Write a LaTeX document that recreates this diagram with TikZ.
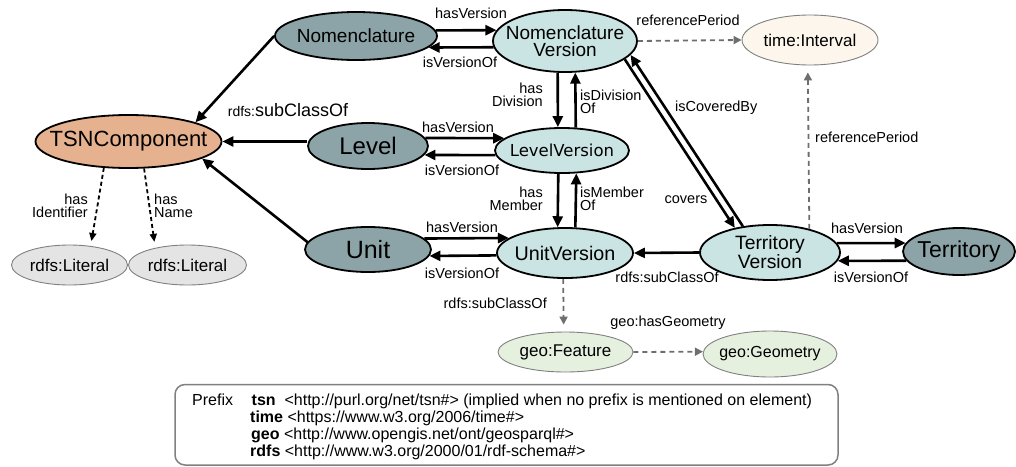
\documentclass[tikz,border=0pt]{standalone}
\usepackage{fontspec}
\setmainfont{Liberation Sans}
\newfontfamily\djv{DejaVu Sans}
\usetikzlibrary{arrows.meta,shapes.geometric}
\definecolor{tsnc}{HTML}{E6B18E}
\definecolor{dkc}{HTML}{8CA3A8}
\definecolor{ltc}{HTML}{CAE3E3}
\definecolor{litc}{HTML}{E4E4E4}
\definecolor{timc}{HTML}{FDF6EC}
\definecolor{geoc}{HTML}{E5F0DF}
\definecolor{grc}{HTML}{6E6E6E}
\definecolor{bdc}{HTML}{808080}
\begin{document}
\begin{tikzpicture}[x=1pt,y=-1pt,
  ell/.style 2 args={ellipse, minimum width=#1, minimum height=#2, inner sep=0pt},
  mainb/.style={draw=black, line width=1.8pt},
  dk/.style={mainb, fill=dkc},
  lt/.style={mainb, fill=ltc},
  ts/.style={mainb, fill=tsnc},
  soft/.style={draw=bdc, line width=0.9pt},
  txt/.style={inner sep=0pt, align=center},
  arr/.style={line width=2.6pt, -{Triangle[length=11pt,width=10pt]}},
  gdash/.style={color=grc, line width=1.8pt, dash pattern=on 5pt off 4pt, -{Triangle[length=8pt,width=8pt]}},
  kdash/.style={line width=1.8pt, dash pattern=on 4pt off 3pt, -{Triangle[length=8pt,width=7pt]}},
  lbl/.style={font=\fontsize{14.5}{13}\selectfont, inner sep=0pt, align=center},
  ptxt/.style={anchor=base west, inner sep=0pt, font=\fontsize{16}{17}\selectfont}
]
\useasboundingbox (0,0) rectangle (1016,466);

% ---- nodes
\node[ts, ell={186pt}{53pt}] (tsn) at (128.5,141.5) {};
\node[txt, font=\fontsize{22}{22}\selectfont] (tsnT) at (tsn) {TSNComponent};

\node[dk, ell={162pt}{48pt}] (nom) at (356,36) {};
\node[txt, font=\fontsize{19}{19}\selectfont] (nomT) at (nom) {Nomenclature};

\node[lt, ell={144pt}{62pt}] (nv) at (565,41) {};
\node[txt, font=\fontsize{19}{17.5}\selectfont] (nvT) at (nv) {Nomenclature\\Version};

\node[soft, fill=timc, ell={136pt}{50pt}] (ti) at (810,40) {};
\node[txt, font=\fontsize{17}{17}\selectfont] (tiT) at (ti) {time:Interval};

\node[dk, ell={120pt}{46pt}] (lev) at (368,146) {};
\node[txt, font=\fontsize{24}{24}\selectfont] (levT) at (lev) {Level};

\node[lt, ell={134pt}{45pt}] (lv) at (562,150.5) {};
\node[txt, font=\djv\fontsize{16.5}{16.5}\selectfont] (lvT) at (lv) {LevelVersion};

\node[dk, ell={126pt}{45pt}] (unit) at (368,249.5) {};
\node[txt, font=\fontsize{25}{25}\selectfont] (unitT) at (unit) {Unit};

\node[lt, ell={136pt}{50pt}] (uv) at (565,253) {};
\node[txt, font=\fontsize{19.7}{19.7}\selectfont] (uvT) at (uv) {UnitVersion};

\node[lt, ell={140pt}{55pt}] (tv) at (770,252.5) {};
\node[txt, font=\fontsize{19.3}{17}\selectfont] (tvT) at (tv) {Territory\\Version};

\node[dk, ell={112pt}{47pt}] (ter) at (959,251.5) {};
\node[txt, font=\fontsize{23}{23}\selectfont] (terT) at (ter) {Territory};

\node[soft, fill=litc, ell={116pt}{40pt}] (lit1) at (69.5,265) {};
\node[txt, font=\fontsize{17}{17}\selectfont] (lit1T) at (lit1) {rdfs:Literal};
\node[soft, fill=litc, ell={118pt}{40pt}] (lit2) at (187.5,265) {};
\node[txt, font=\fontsize{17}{17}\selectfont] (lit2T) at (lit2) {rdfs:Literal};

\node[soft, fill=geoc, ell={135pt}{40pt}] (gf) at (565.5,352) {};
\node[txt, font=\fontsize{17}{17}\selectfont] (gfT) at (gf) {geo:Feature};
\node[soft, fill=geoc, ell={134pt}{46pt}] (gg) at (770,354) {};
\node[txt, font=\fontsize{16}{16}\selectfont] (ggT) at (gg) {geo:Geometry};

% ---- edges
\draw[arr] (nom.west) -- (tsn.16);
\draw[arr] (lev.west |- tsn.east) -- (tsn.east);
\draw[arr] (unit.173) -- (tsn.-13);

\draw[arr] (nom.4) -- (nv.171);
\draw[arr] (nv.-175) -- (nom.-9);
\draw[arr] (lev.8) -- (lv.168);
\draw[arr] (lv.-176) -- (lev.-9);
\draw[arr] (unit.11) -- (uv.165);
\draw[arr] (uv.-178) -- (unit.-6);
\draw[arr] (tv.8) -- (ter.171);
\draw[arr] (ter.-170) -- (tv.-7);

\draw[arr] (nv.-103) -- (lv.100);
\draw[arr] (lv.59) -- (nv.-72);
\draw[arr] (lv.-99) -- (uv.106);
\draw[arr] (uv.68) -- (lv.-58);

\draw[arr] (tv.180) -- (uv.0);
\draw[arr] (nv.-17) -- (tv.145);
\draw[arr] (tv.136) -- (nv.-12);

\draw[gdash] (nv.0) -- (ti.180);
\draw[gdash, shorten >=7pt] (tv.31) -- (ti.-95);
\draw[gdash, shorten >=7pt] (uv.-94) -- (gf.95);
\draw[gdash] (gf.0) -- (gg.178);
\draw[kdash, shorten >=5pt] (tsn.-133) -- (lit1.42);
\draw[kdash, shorten >=6pt] (tsn.-60) -- (lit2.152);

% ---- edge labels
\node[lbl] (l1) at (471,13) {hasVersion};
\node[lbl] (l2) at (460,62) {isVersionOf};
\node[lbl] (l3) at (688,20) {referencePeriod};
\node[lbl] (l4) at (288,110) {{\fontsize{14}{14}\selectfont rdfs:}{\fontsize{18}{18}\selectfont subClassOf}};
\node[lbl, anchor=east, align=right] (l5) at (543,94.5) {has\\Division};
\node[lbl, anchor=west, align=left] (l6) at (580,101.5) {isDivision\\Of};
\node[lbl] (l7) at (458,127) {hasVersion};
\node[lbl] (l8) at (462,170) {isVersionOf};
\node[lbl, anchor=east, align=right] (l9) at (543,199) {has\\Member};
\node[lbl, anchor=west, align=left] (l10) at (580,198.5) {isMember\\Of};
\node[lbl, anchor=west] (l11) at (675,108) {isCoveredBy};
\node[lbl] (l12) at (686,200) {covers};
\node[lbl, anchor=west] (l13) at (815,137) {referencePeriod};
\node[lbl] (l14) at (462,227) {hasVersion};
\node[lbl] (l15) at (462,273) {isVersionOf};
\node[lbl] (l16) at (667,277) {rdfs:subClassOf};
\node[lbl] (l17) at (867,228) {hasVersion};
\node[lbl] (l18) at (871,277) {isVersionOf};
\node[lbl, anchor=east, align=right] (l19) at (88,206) {has\\Identifier};
\node[lbl, anchor=west, align=left] (l20) at (154,206) {has\\Name};
\node[lbl, anchor=east] (l21) at (547,303) {rdfs:subClassOf};
\node[lbl] (l22) at (668,323) {geo:hasGeometry};

% ---- prefix box
\draw[draw=bdc, line width=1.5pt, rounded corners=10pt] (175,384.5) rectangle (838,465);
\node[ptxt] (p0) at (192,405) {Prefix};
\node[ptxt] (p1) at (251.5,405) {\textbf{tsn}\ \ <http://purl.org/net/tsn\#> (implied when no prefix is mentioned on element)};
\node[ptxt] (p2) at (250,422) {\textbf{time} <https://www.w3.org/2006/time\#>};
\node[ptxt] (p3) at (251,439.5) {\textbf{geo} <http://www.opengis.net/ont/geosparql\#>};
\node[ptxt] (p4) at (250,456.5) {\textbf{rdfs} <http://www.w3.org/2000/01/rdf-schema\#>};
\end{tikzpicture}
\end{document}
